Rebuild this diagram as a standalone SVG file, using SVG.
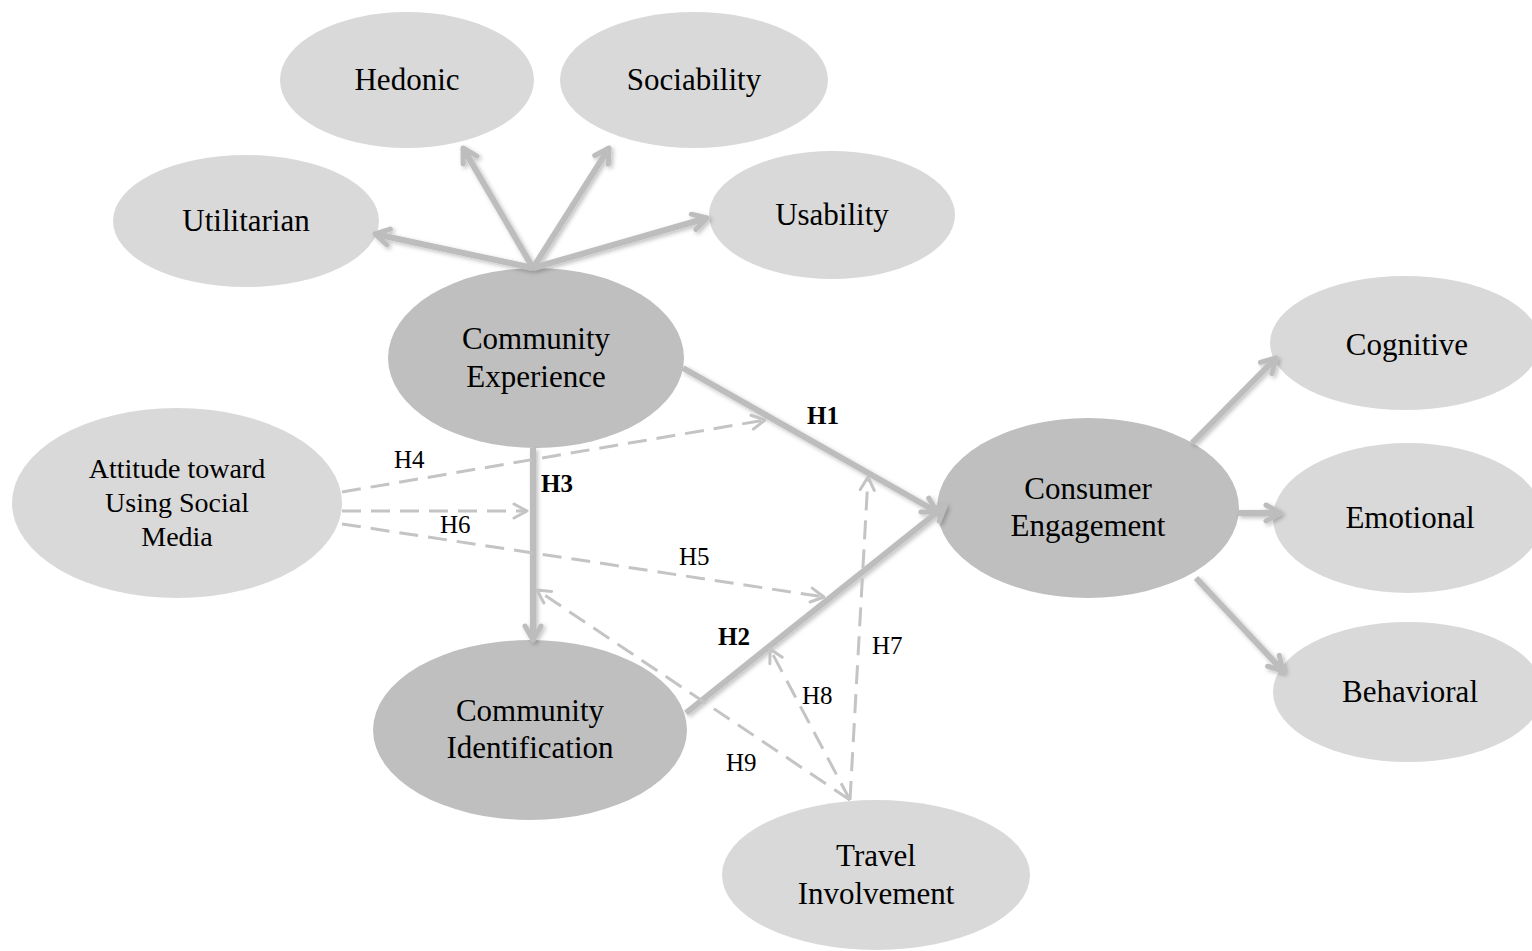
<svg xmlns="http://www.w3.org/2000/svg" width="1532" height="951" viewBox="0 0 1532 951">
<style>
.light{fill:#d9d9d9}
.dark{fill:#bfbfbf}
.nt{font-family:"Liberation Serif","Times New Roman",serif;font-size:31px;fill:#000;text-anchor:middle}
.at{font-family:"Liberation Serif","Times New Roman",serif;font-size:28px;fill:#000;text-anchor:middle}
.hl{font-family:"Liberation Serif","Times New Roman",serif;font-size:25px;fill:#000}
.hb{font-family:"Liberation Serif","Times New Roman",serif;font-size:25px;font-weight:bold;fill:#000}
.thick{stroke:#bdbdbd;stroke-width:6;fill:none;marker-end:url(#ah)}
.dash{stroke:#c4c4c4;stroke-width:3;fill:none;stroke-dasharray:19 10;marker-end:url(#ad)}
</style>
<defs>
<filter id="sh" filterUnits="userSpaceOnUse" x="0" y="0" width="1532" height="951">
<feDropShadow dx="2" dy="2" stdDeviation="2" flood-color="#000" flood-opacity="0.25"/>
</filter>
<marker id="ah" viewBox="0 0 22 22" markerWidth="22" markerHeight="22" refX="19" refY="11" orient="auto" markerUnits="userSpaceOnUse">
<path d="M5,3 L19,11 L5,19" fill="none" stroke="#bdbdbd" stroke-width="5" stroke-linecap="round" stroke-linejoin="round"/>
</marker>
<marker id="ad" viewBox="0 0 18 18" markerWidth="18" markerHeight="18" refX="16" refY="9" orient="auto" markerUnits="userSpaceOnUse">
<path d="M3,2 L16,9 L3,16" fill="none" stroke="#c4c4c4" stroke-width="3" stroke-linecap="round" stroke-linejoin="round"/>
</marker>
</defs>
<rect width="1532" height="951" fill="#fff"/>

<g id="hedonic"><ellipse class="light" cx="407" cy="80" rx="127" ry="68"/><text class="nt" x="407" y="90">Hedonic</text></g>
<g id="sociability"><ellipse class="light" cx="694" cy="80" rx="134" ry="68"/><text class="nt" x="694" y="90">Sociability</text></g>
<g id="utilitarian"><ellipse class="light" cx="246" cy="221" rx="133" ry="66"/><text class="nt" x="246" y="231">Utilitarian</text></g>
<g id="usability"><ellipse class="light" cx="832" cy="215" rx="123" ry="64"/><text class="nt" x="832" y="225">Usability</text></g>
<g id="community-experience"><ellipse class="dark" cx="536" cy="358" rx="148" ry="90"/><text class="nt" x="536" y="349">Community</text><text class="nt" x="536" y="387">Experience</text></g>
<g id="attitude"><ellipse class="light" cx="177" cy="503" rx="165" ry="95"/><text class="at" x="177" y="478">Attitude toward</text><text class="at" x="177" y="512">Using Social</text><text class="at" x="177" y="546">Media</text></g>
<g id="community-identification"><ellipse class="dark" cx="530" cy="730" rx="157" ry="90"/><text class="nt" x="530" y="721">Community</text><text class="nt" x="530" y="758">Identification</text></g>
<g id="consumer-engagement"><ellipse class="dark" cx="1088" cy="508" rx="151" ry="90"/><text class="nt" x="1088" y="499">Consumer</text><text class="nt" x="1088" y="536">Engagement</text></g>
<g id="cognitive"><ellipse class="light" cx="1405" cy="343" rx="135" ry="67"/><text class="nt" x="1407" y="355">Cognitive</text></g>
<g id="emotional"><ellipse class="light" cx="1408" cy="518" rx="135" ry="75"/><text class="nt" x="1410" y="528">Emotional</text></g>
<g id="behavioral"><ellipse class="light" cx="1408" cy="692" rx="135" ry="70"/><text class="nt" x="1410" y="702">Behavioral</text></g>
<g id="travel-involvement"><ellipse class="light" cx="876" cy="875" rx="154" ry="75"/><text class="nt" x="876" y="866">Travel</text><text class="nt" x="876" y="904">Involvement</text></g>

<g id="connectors">
<g filter="url(#sh)">
<line class="thick" x1="533" y1="268" x2="375" y2="234"/>
<line class="thick" x1="533" y1="268" x2="463" y2="148"/>
<line class="thick" x1="533" y1="268" x2="609" y2="148"/>
<line class="thick" x1="533" y1="268" x2="707" y2="218"/>
<line class="thick" x1="683" y1="368" x2="937" y2="512"/>
<line class="thick" x1="686" y1="713" x2="945" y2="506"/>
<line class="thick" x1="533" y1="448" x2="533" y2="640"/>
<line class="thick" x1="1192" y1="443" x2="1276" y2="358"/>
<line class="thick" x1="1238" y1="513" x2="1280" y2="513"/>
<line class="thick" x1="1196" y1="578" x2="1283" y2="671"/>
</g>
<line class="dash" x1="342" y1="492" x2="765" y2="420"/>
<line class="dash" x1="342" y1="511" x2="527" y2="511"/>
<line class="dash" x1="342" y1="524" x2="824" y2="597"/>
<line class="dash" x1="850" y1="800" x2="868" y2="477"/>
<line class="dash" x1="850" y1="800" x2="770" y2="649"/>
<line class="dash" x1="850" y1="800" x2="537" y2="590"/>
</g>

<g id="labels">
<text class="hb" x="807" y="424">H1</text>
<text class="hb" x="718" y="645">H2</text>
<text class="hb" x="541" y="492">H3</text>
<text class="hl" x="394" y="468">H4</text>
<text class="hl" x="679" y="565">H5</text>
<text class="hl" x="440" y="533">H6</text>
<text class="hl" x="872" y="654">H7</text>
<text class="hl" x="802" y="704">H8</text>
<text class="hl" x="726" y="771">H9</text>
</g>
</svg>
